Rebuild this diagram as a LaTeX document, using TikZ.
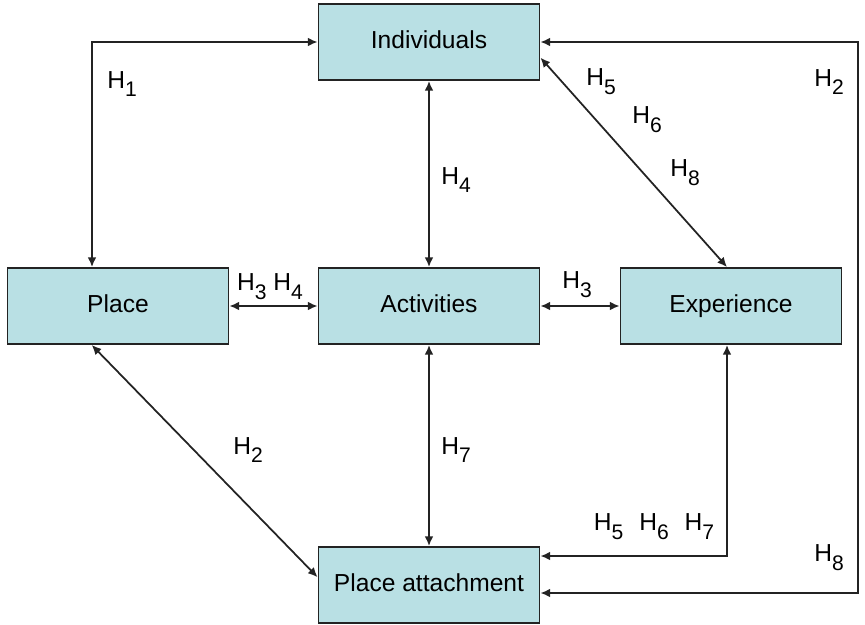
\documentclass[tikz,border=0pt]{standalone}
\usepackage{fontspec}
\setmainfont{Liberation Sans}
\usetikzlibrary{arrows.meta}
\definecolor{boxfill}{RGB}{185,224,228}
\definecolor{edge}{RGB}{35,35,35}
\newcommand{\hyp}[1]{H\raisebox{-5pt}{\fontsize{12}{12}\selectfont #1}}

\begin{document}
\begin{tikzpicture}[x=0.02cm,y=-0.02cm,
  box/.style={draw=edge,line width=1.1pt,fill=boxfill,minimum width=4.42cm,
    minimum height=1.52cm,inner sep=0pt,text height=10pt,text depth=3pt,
    font=\fontsize{14}{17}\selectfont},
  link/.style={draw=edge,line width=1pt,
    {Latex[length=5.5pt,width=5pt]}-{Latex[length=5.5pt,width=5pt]}},
  lab/.style={inner sep=0pt,font=\fontsize{14}{17}\selectfont}]
\useasboundingbox (0,0) rectangle (865,625);
\node[box] (ind) at (429,42) {Individuals};
\node[box] (place) at (118,306) {Place};
\node[box] (act) at (429,306) {Activities};
\node[box] (exp) at (731,306) {Experience};
\node[box] (att) at (429,585) {Place attachment};
\coordinate (c1) at (92,42);
\coordinate (c2) at (858,42);
\coordinate (c3) at (858,593);
\coordinate (c4) at (727,556);
\draw[link] (ind.west) -- (c1) -- (place.north -| c1);
\draw[link] (ind.east) -- (c2) -- (c3) -- (att.east |- c3);
\draw[link] (ind) -- (act);
\draw[link] (ind.-8) -- (exp.north -| c4);
\draw[link] (place) -- (act);
\draw[link] (act) -- (exp);
\draw[link] (act) -- (att);
\draw[link] (place.236) -- (att.176);
\draw[link] (exp.south -| c4) -- (c4) -- (att.east |- c4);
\node[lab] (l1) at (122,84) {\hyp{1}};
\node[lab] (l2) at (829,82) {\hyp{2}};
\node[lab] (l3) at (456,180) {\hyp{4}};
\node[lab] (l4) at (601,82) {\hyp{5}};
\node[lab] (l5) at (647,120) {\hyp{6}};
\node[lab] (l6) at (685,173) {\hyp{8}};
\node[lab] (l7) at (270,287) {\hyp{3} \hyp{4}};
\node[lab] (l8) at (577,285) {\hyp{3}};
\node[lab] (l9) at (248,450) {\hyp{2}};
\node[lab] (l10) at (456,450) {\hyp{7}};
\node[lab] (l11) at (654,527) {\hyp{5}\hspace{9pt}\hyp{6}\hspace{9pt}\hyp{7}};
\node[lab] (l12) at (829,558) {\hyp{8}};
\end{tikzpicture}
\end{document}
